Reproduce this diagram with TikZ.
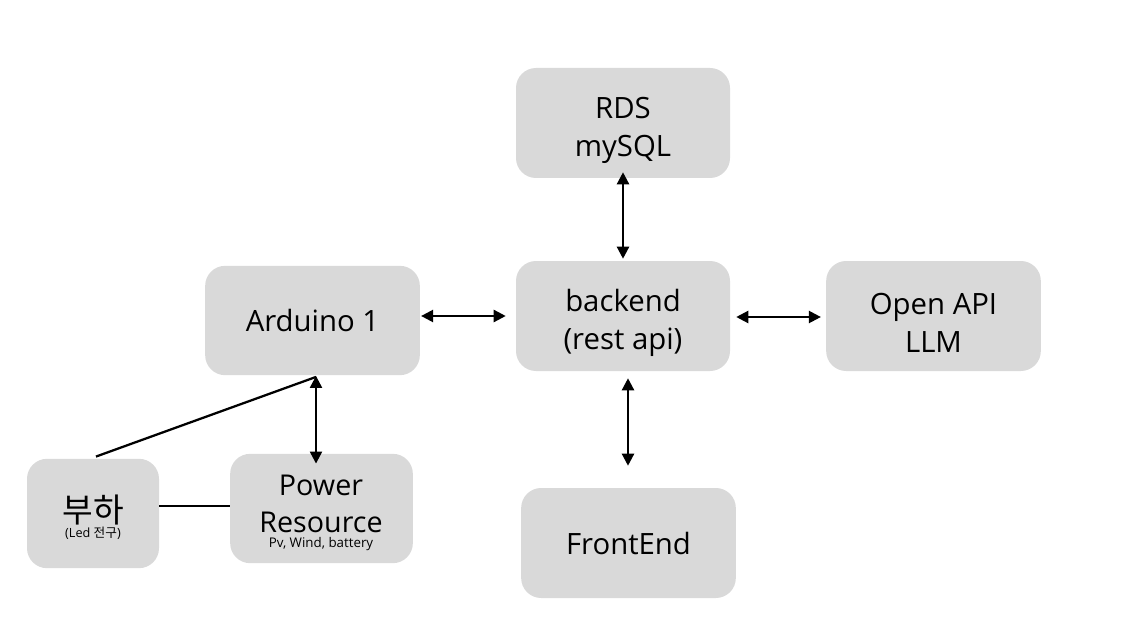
\documentclass[tikz,border=0pt]{standalone}
\usepackage{fontspec}
\setmainfont{Open Sans}
\newfontfamily\cjk{Noto Sans CJK KR}
\usetikzlibrary{arrows.meta,calc}
\begin{document}
\begin{tikzpicture}[x=0.75pt,y=-0.75pt,
  box/.style={fill=boxgray,draw=none,rounded corners=15pt,inner sep=0pt,align=center,
    font=\fontsize{22}{28.5}\selectfont},
  twoline/.style={label={[font=\fontsize{22}{28.5}\selectfont,align=center,yshift=-5.5pt]center:#1}},
  link/.style={line width=1.7pt,{Triangle[length=9pt,width=9pt]}-{Triangle[length=9pt,width=9pt]}},
  plain/.style={line width=1.7pt}]
\definecolor{boxgray}{RGB}{217,217,217}
\useasboundingbox (0,0) rectangle (1128,638);
\fill[white] (0,0) rectangle (1128,638);
\node[box,minimum width=160.5pt,minimum height=82.5pt,twoline={RDS\\mySQL}] (rds) at (623,123) {};
\node[box,minimum width=160.5pt,minimum height=82.5pt,twoline={backend\\(rest api)}] (backend) at (623,316) {};
\node[box,minimum width=161pt,minimum height=82pt] (ard) at (312.5,320.5) {Arduino 1};
\node[box,minimum width=161pt,minimum height=82.5pt,twoline={Open API\\LLM}] (api) at (933.5,316) {};
\node[box,minimum width=161pt,minimum height=82.5pt] (front) at (628.5,543) {FrontEnd};
\node[box,minimum width=99pt,minimum height=82pt] (load) at (93,513.5) {};
\node[box,minimum width=137pt,minimum height=82pt] (power) at (321.5,508.5) {};
\node[font=\fontsize{21.5}{27.5}\selectfont,align=center] (powert) at (321,504) {Power\\Resource};
\node[font=\fontsize{10}{12}\selectfont] (powers) at (321,544) {Pv, Wind, battery};
\node[font=\cjk\fontsize{25}{27}\selectfont] (loadt) at (93,510) {부하};
\node[font=\fontsize{9.5}{11}\selectfont] (loads) at (93,533) {(Led {\cjk 전구})};
\draw[link] ($(rds.south)+(0,-6)$) -- ($(backend.north)+(0,-2)$);
\draw[link] ($(ard.east)+(1,-4.5)$) -- ($(backend.west)+(-10,0)$);
\draw[link] ($(backend.east)+(6,1)$) -- ($(api.west)+(-5,1)$);
\draw[link] ($(backend.south)+(5,7)$) -- ($(front.north)+(-0.5,-22)$);
\draw[link] ($(ard.south)+(3.5,0.5)$) -- ($(power.north)+(-5.5,10)$);
\draw[plain] ($(load.north)+(3,-2)$) -- ($(ard.south)+(3.5,1.5)$);
\draw[plain] ($(load.east)+(0,-7.5)$) -- ($(power.west)+(0,-2.5)$);
\end{tikzpicture}
\end{document}
